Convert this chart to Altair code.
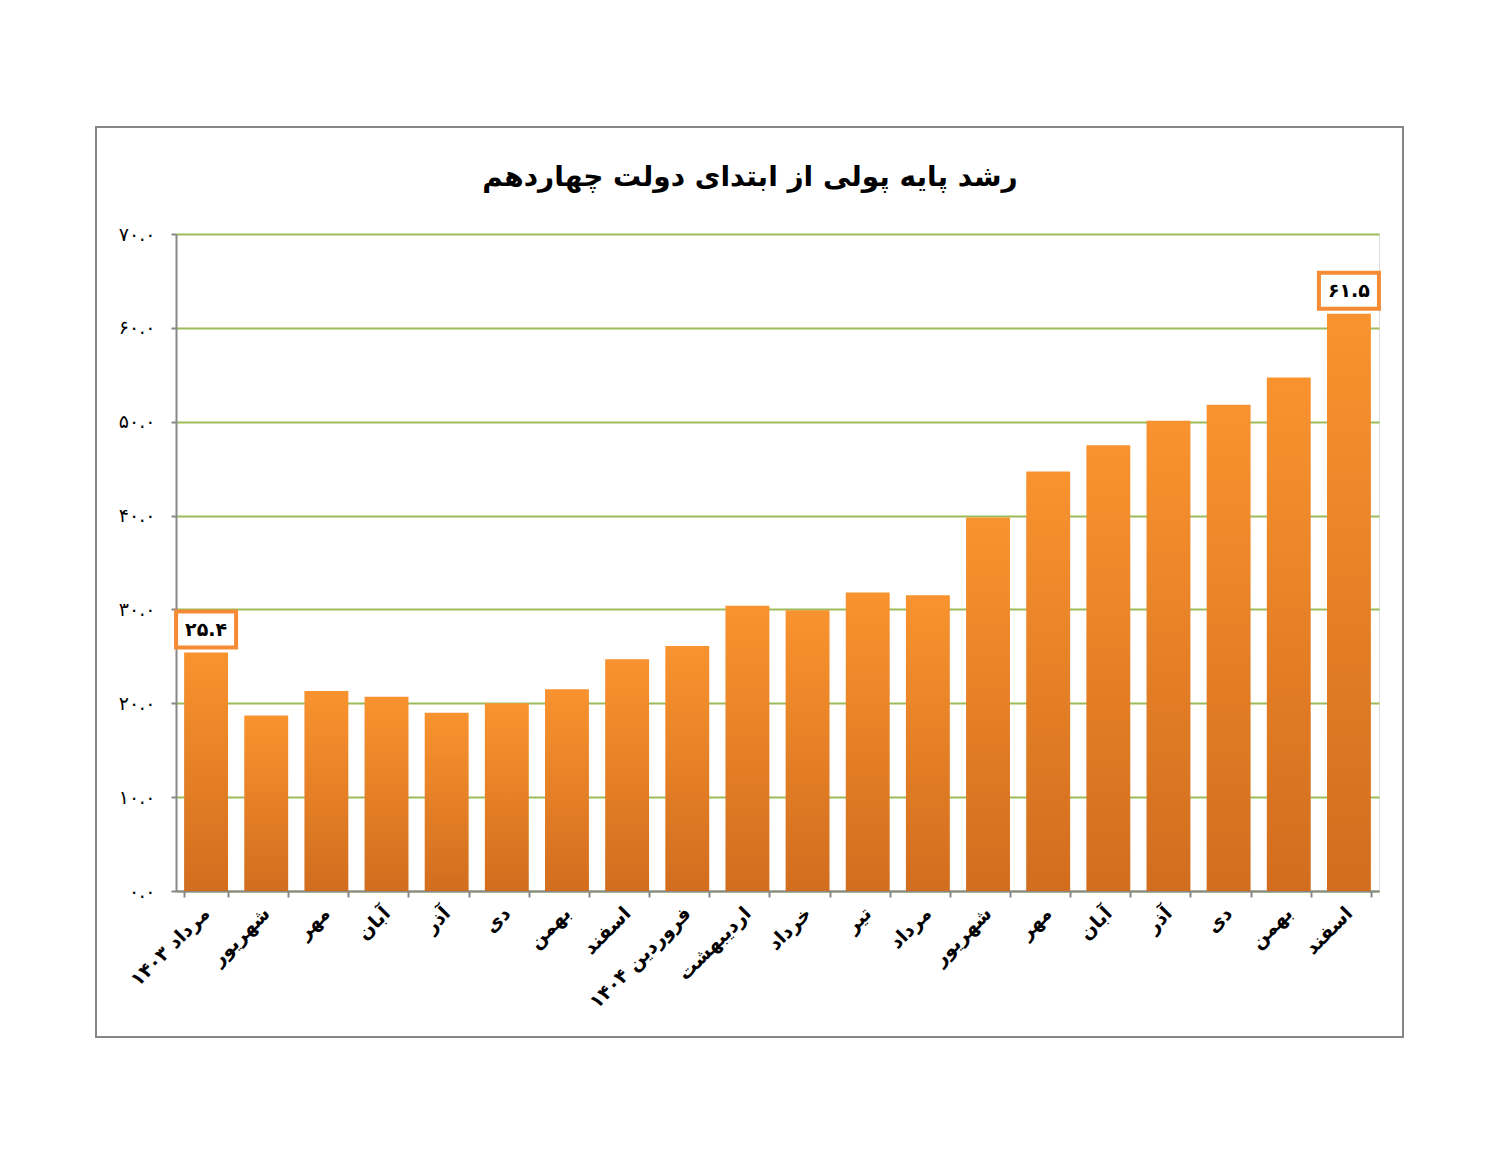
import json
import altair as alt
import pandas as pd

months = ["مرداد ۱۴۰۳", "شهریور", "مهر", "آبان", "آذر", "دی", "بهمن", "اسفند",
          "فروردین ۱۴۰۴", "اردیبهشت", "خرداد", "تیر", "مرداد", "شهریور", "مهر",
          "آبان", "آذر", "دی", "بهمن", "اسفند"]
values = [25.4, 18.7, 21.3, 20.7, 19.0, 20.0, 21.5, 24.7, 26.1, 30.4,
          29.9, 31.8, 31.5, 39.8, 44.7, 47.5, 50.1, 51.8, 54.7, 61.5]
y_ticks = [0, 10, 20, 30, 40, 50, 60, 70]
labeled_idx = [0, 19]
title_text = "رشد پایه پولی از ابتدای دولت چهاردهم"

FA = str.maketrans("0123456789", "۰۱۲۳۴۵۶۷۸۹")


def fa(v):
    return f"{v:.1f}".translate(FA)


FONT = "DejaVu Sans"

df = pd.DataFrame({"idx": list(range(len(months))), "month": months, "value": values})
lab = df.iloc[labeled_idx].copy()
lab["label"] = [fa(v) for v in lab["value"]]

x_label_expr = json.dumps(months, ensure_ascii=False) + "[datum.value]"
y_label_expr = json.dumps({str(t): fa(t) for t in y_ticks}, ensure_ascii=False) + "[datum.value + '']"

x_enc = alt.X(
    "idx:O",
    title=None,
    scale=alt.Scale(paddingInner=0.27, paddingOuter=0.135),
    axis=alt.Axis(
        labelExpr=x_label_expr,
        labelAngle=-45,
        labelAlign="right",
        labelBaseline="middle",
        labelFont=FONT,
        labelFontWeight="bold",
        labelFontSize=19,
        labelColor="#000000",
        labelPadding=13,
        domainColor="#878787",
        domainWidth=2,
        tickColor="#878787",
        tickWidth=2,
        tickSize=6,
        tickBand="extent",
        tickOffset=-8,
        grid=False,
    ),
)

y_enc = alt.Y(
    "value:Q",
    title=None,
    scale=alt.Scale(domain=[0, 70]),
    axis=alt.Axis(
        values=y_ticks,
        labelExpr=y_label_expr,
        labelFont=FONT,
        labelFontSize=19,
        labelColor="#000000",
        labelPadding=16,
        grid=True,
        gridColor="#9BBB59",
        gridWidth=2,
        domainColor="#878787",
        domainWidth=2,
        tickColor="#878787",
        tickWidth=2,
        tickSize=5,
    ),
)

bars = alt.Chart(df).mark_bar(
    color=alt.Gradient(
        gradient="linear",
        stops=[alt.GradientStop(color="#F9932F", offset=0),
               alt.GradientStop(color="#D16D1E", offset=1)],
        x1=0, x2=0, y1=0, y2=1,
    )
).encode(x=x_enc, y=y_enc)

boxes = alt.Chart(lab).mark_point(
    shape="M-1,-0.6H1V0.6H-1Z",
    size=3600,
    filled=True,
    fill="#FFFFFF",
    stroke="#F58B35",
    strokeWidth=4,
    opacity=1,
).encode(x="idx:O", y="value:Q", yOffset=alt.value(-23))

texts = alt.Chart(lab).mark_text(
    font=FONT, fontSize=19, fontWeight="bold", color="#000000", baseline="middle"
).encode(x="idx:O", y="value:Q", yOffset=alt.value(-23), text="label:N")

border = alt.Chart(pd.DataFrame({"a": [0]})).mark_rect(
    filled=False, stroke="#868686", strokeWidth=2
).encode(x=alt.value(-80), x2=alt.value(1227), y=alt.value(-107), y2=alt.value(803))

title = alt.Chart(pd.DataFrame({"t": [title_text]})).mark_text(
    font=FONT, fontSize=28, fontWeight="bold", color="#000000",
    align="center", baseline="middle"
).encode(text="t:N", x=alt.value(574), y=alt.value(-56))

chart = alt.layer(border, title, bars, boxes, texts).properties(
    width=1203,
    height=657,
    padding={"left": 87, "top": 118, "right": 0, "bottom": 0},
).configure_view(stroke=None).configure(background="#FFFFFF")

chart.save("out.html", embed_options={"renderer": "svg", "actions": False})
